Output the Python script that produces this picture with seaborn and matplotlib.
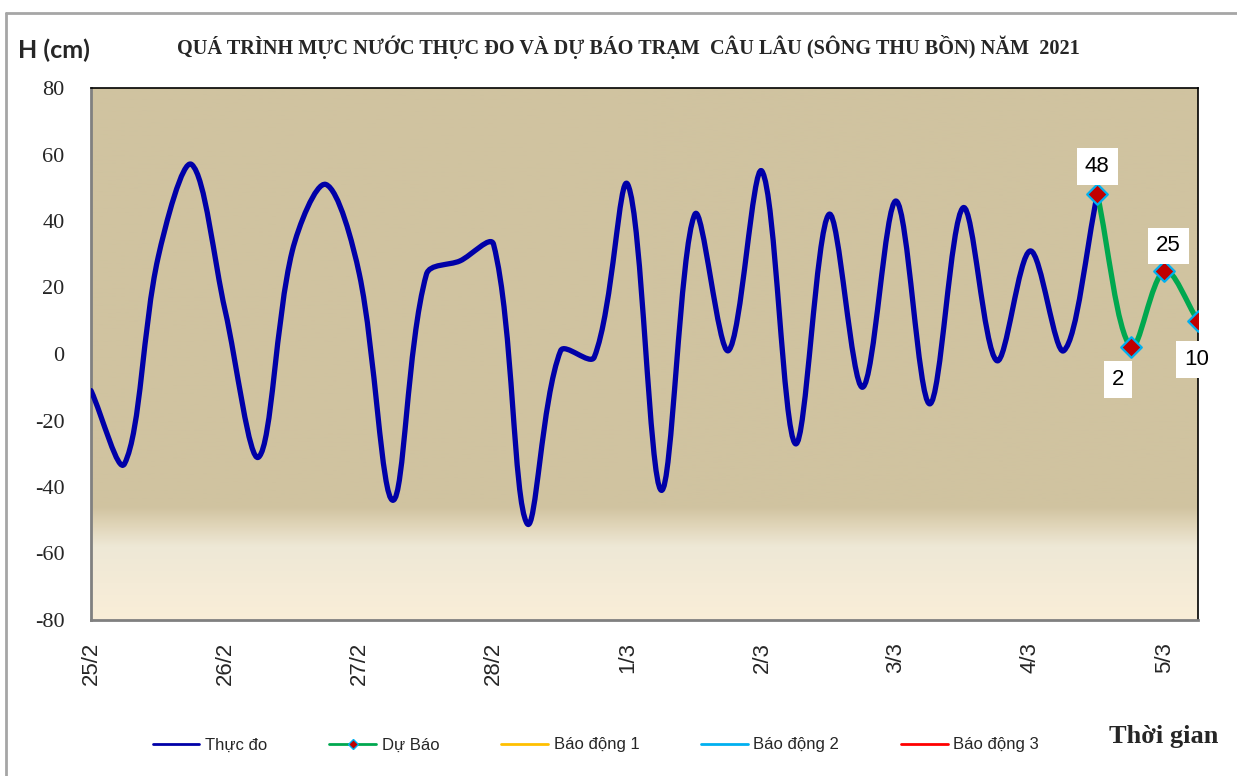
import numpy as np
import matplotlib
matplotlib.use("Agg")
import matplotlib.pyplot as plt
from matplotlib.path import Path
from matplotlib.patches import PathPatch
from matplotlib.lines import Line2D
import seaborn as sns

# muc nuoc thuc do, moi 6 gio mot diem (25/2 00h -> 4/3 12h)
thuc_do = [-11, -33, 29, 57, 13, -31, 31, 51, 24, -44, 24, 28, 33, -51, 1, -1,
           51, -41, 42, 1, 55, -27, 42, -10, 46, -15, 44, -2, 31, 1, 48]
# du bao (4/3 12h -> 5/3 06h)
du_bao = [48, 2, 25, 10]
ngay = ['25/2', '26/2', '27/2', '28/2', '1/3', '2/3', '3/3', '4/3', '5/3']
nhan_du_bao = ['48', '2', '25', '10']
ten_chu_giai = ['Thực đo', 'Dự Báo', 'Báo động 1', 'Báo động 2', 'Báo động 3']

x_td = np.arange(len(thuc_do))
x_db = np.arange(len(du_bao)) + len(thuc_do) - 1
n_pts = len(thuc_do) + len(du_bao) - 1

sns.set_style('white')
plt.rcParams['font.family'] = ['Liberation Sans', 'DejaVu Sans']


def smooth_path(ax, xs, ys):
    # duong cong Bezier qua cac diem (kieu "smoothed line" cua Excel)
    pts = ax.transData.transform(np.column_stack([xs, ys]).astype(float))
    n = len(pts)
    c_out, c_in = [], []
    for i in range(n):
        a, b, c = pts[max(i - 1, 0)], pts[i], pts[min(i + 1, n - 1)]
        l1, l2 = np.hypot(*(b - a)), np.hypot(*(c - b))
        tot = (l1 + l2) or 1.0
        c_out.append(b + (c - a) * l2 / tot / 3)
        c_in.append(b - (c - a) * l1 / tot / 3)
    verts = [pts[0]]
    codes = [Path.MOVETO]
    for i in range(n - 1):
        verts += [c_out[i], c_in[i + 1], pts[i + 1]]
        codes += [Path.CURVE4] * 3
    return Path(ax.transData.inverted().transform(np.array(verts)), codes)


fig = plt.figure(figsize=(12.37, 7.76), dpi=100)
ax = fig.add_axes([91 / 1237, 1 - 620 / 776, 1107 / 1237, 532 / 776])
ax.set_xlim(0, n_pts - 1)
ax.set_ylim(-80, 80)

# nen: mau be, nhat dan o phia duoi
stops_v = [80, -46, -52, -58, -80]
stops_c = np.array([[208, 195, 160], [208, 195, 160], [225, 214, 186],
                    [238, 232, 214], [250, 238, 216]]) / 255
vv = np.linspace(80, -80, 400)
grad = np.stack([np.interp(-vv, [-s for s in stops_v], stops_c[:, k]) for k in range(3)], axis=-1)
ax.imshow(grad[:, None, :], extent=[0, n_pts - 1, -80, 80], aspect='auto', zorder=0)

ax.add_patch(PathPatch(smooth_path(ax, x_td, thuc_do), fill=False, edgecolor='#0000A8',
                       lw=3.8, capstyle='round', joinstyle='round', zorder=3))
ax.add_patch(PathPatch(smooth_path(ax, x_db, du_bao), fill=False, edgecolor='#00A84F',
                       lw=3.8, capstyle='round', joinstyle='round', zorder=3))
sns.scatterplot(x=x_db, y=du_bao, marker='D', s=110, color='#C00000',
                edgecolor='#00B0F0', linewidth=1.6, zorder=5, ax=ax, legend=False)

offsets = [(0, 20), (-9, -23), (3, 18), (-1, -28)]
for xi, yi, lab, off in zip(x_db, du_bao, nhan_du_bao, offsets):
    ax.annotate(lab, (xi, yi), xytext=off, textcoords='offset points',
                ha='center', va='center', fontsize=16, color='black', zorder=6,
                bbox=dict(boxstyle='square,pad=0.35', fc='white', ec='none'))

ax.set_xlim(0, n_pts - 1)
ax.set_ylim(-80, 80)
ax.set_yticks(range(-80, 81, 20))
ax.set_yticklabels([str(v) for v in range(-80, 81, 20)], family='Liberation Serif', fontsize=16)
ax.set_xticks(range(0, n_pts), minor=True)
ax.set_xticks(range(0, n_pts, 4))
ax.set_xticklabels(ngay, rotation=90, fontsize=16)
ax.tick_params(axis='y', direction='out', length=7, width=1.5, color='#808080', pad=12)
ax.tick_params(axis='x', which='both', direction='in', length=6, width=1.5, color='#808080', pad=16)
for s in ['left', 'bottom']:
    ax.spines[s].set_color('#808080')
    ax.spines[s].set_linewidth(2)
for s in ['top', 'right']:
    ax.spines[s].set_color('black')
    ax.spines[s].set_linewidth(1.2)

fig.text(628 / 1237, 1 - 47 / 776,
         'QUÁ TRÌNH MỰC NƯỚC THỰC ĐO VÀ DỰ BÁO TRẠM  CÂU LÂU (SÔNG THU BỒN) NĂM  2021',
         ha='center', va='center', family='Liberation Serif', fontweight='bold', fontsize=14.6)
fig.text(18 / 1237, 1 - 50 / 776, 'H (cm)', ha='left', va='center',
         family='Lato', fontweight='bold', fontsize=18)
fig.text(1218 / 1237, 1 - 737 / 776, 'Thời gian', ha='right', va='center',
         family='Liberation Serif', fontweight='bold', fontsize=19)

handles = [
    Line2D([], [], color='#0000A8', lw=2),
    Line2D([], [], color='#00A84F', lw=2, marker='D', markersize=5,
           markerfacecolor='#C00000', markeredgecolor='#00B0F0'),
    Line2D([], [], color='#FFC000', lw=2),
    Line2D([], [], color='#00B0F0', lw=2),
    Line2D([], [], color='#FF0000', lw=2),
]
fig.legend(handles, ten_chu_giai, loc='center', bbox_to_anchor=(596 / 1237, 1 - 745 / 776),
           ncol=5, frameon=False, fontsize=12, handlelength=2.8, handletextpad=0.35,
           columnspacing=3.7)

# khung vien ngoai
fig.add_artist(Line2D([5.5 / 1237, 5.5 / 1237], [0, 1 - 13 / 776], color='#A6A6A6', lw=2))
fig.add_artist(Line2D([5.5 / 1237, 1], [1 - 13 / 776, 1 - 13 / 776], color='#A6A6A6', lw=2))

fig.savefig('out.png', dpi=100, facecolor='white')
